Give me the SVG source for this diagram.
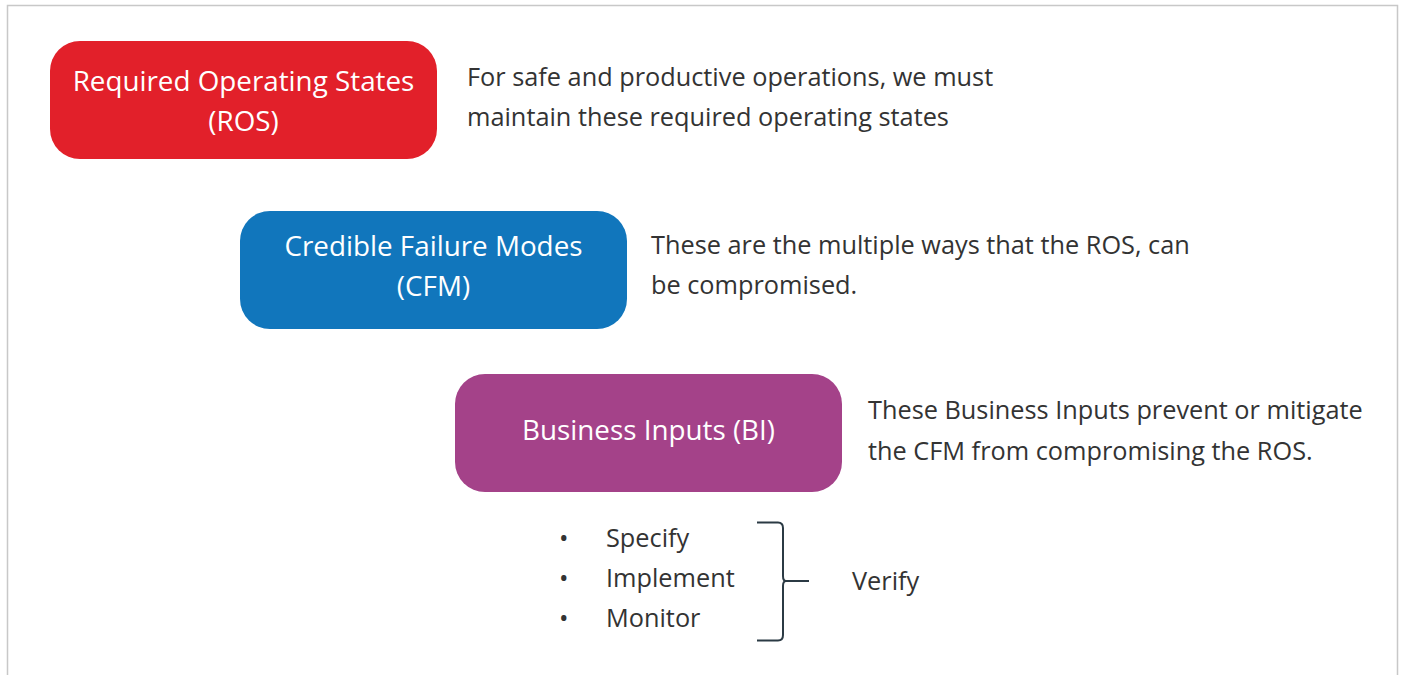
<svg xmlns="http://www.w3.org/2000/svg" width="1402" height="675" viewBox="0 0 1402 675">
<style>
.box text{font-family:"Open Sans","Liberation Sans",sans-serif;font-size:27.8px;fill:#ffffff;text-anchor:middle}
.desc{font-family:"Open Sans","Liberation Sans",sans-serif;font-size:25.3px;fill:#333333}
.bracket{fill:none;stroke:#2b3a44;stroke-width:2;stroke-linejoin:round}
</style>
<rect x="0" y="0" width="1402" height="675" fill="#ffffff"/>
<path d="M7.5 680 V5.5 H1397.5 V680" fill="none" stroke="#c8c8c8" stroke-width="1.5"/>
<g id="ros" class="box">
<rect x="50" y="41" width="387" height="118" rx="30" fill="#e2202a"/>
<text x="243.5" y="91">Required Operating States</text>
<text x="243.5" y="131">(ROS)</text>
</g>
<g id="ros-desc">
<text class="desc" x="467" y="86">For safe and productive operations, we must</text>
<text class="desc" x="467" y="126">maintain these required operating states</text>
</g>
<g id="cfm" class="box">
<rect x="240" y="211" width="387" height="118" rx="30" fill="#1176bc"/>
<text x="433.5" y="256">Credible Failure Modes</text>
<text x="433.5" y="296">(CFM)</text>
</g>
<g id="cfm-desc">
<text class="desc" x="651" y="254">These are the multiple ways that the ROS, can</text>
<text class="desc" x="651" y="294">be compromised.</text>
</g>
<g id="bi" class="box">
<rect x="455" y="374" width="387" height="118" rx="30" fill="#a44289"/>
<text x="648.5" y="440">Business Inputs (BI)</text>
</g>
<g id="bi-desc">
<text class="desc" x="868" y="419">These Business Inputs prevent or mitigate</text>
<text class="desc" x="868" y="460">the CFM from compromising the ROS.</text>
</g>
<g id="steps">
<text class="desc" x="559" y="547">•</text>
<text class="desc" x="606" y="547">Specify</text>
<text class="desc" x="559" y="587">•</text>
<text class="desc" x="606" y="587">Implement</text>
<text class="desc" x="559" y="627">•</text>
<text class="desc" x="606" y="627">Monitor</text>
</g>
<g id="connectors">
<path class="bracket" d="M757 522.5 H778 Q783 522.5 783 528 V576 Q783 581 786 581 H809 M786 581 Q783 581 783 586 V635 Q783 640.5 778 640.5 H757"/>
</g>
<g id="verify">
<text class="desc" x="852" y="590">Verify</text>
</g>
</svg>
